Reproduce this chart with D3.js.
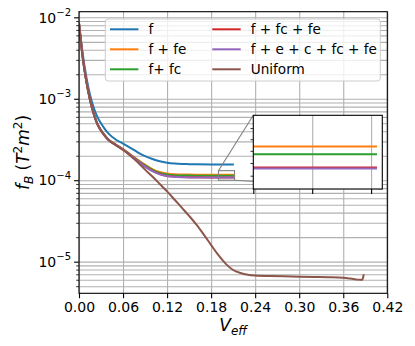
<!DOCTYPE html>
<html>
<head>
<meta charset="utf-8">
<script src="https://cdn.jsdelivr.net/npm/d3@7"></script>
<style>
  html, body { margin: 0; padding: 0; background: #fff; }
  svg { display: block; font-family: "DejaVu Sans", sans-serif; }
</style>
</head>
<body>
<svg id="chart" width="415" height="346"></svg>
<script>
// ---------- data ----------
const vEff = [0, 0.005, 0.01, 0.015, 0.02, 0.025, 0.03, 0.035, 0.04, 0.05, 0.06, 0.07, 0.08, 0.09, 0.10, 0.11, 0.12, 0.13, 0.14, 0.15, 0.16, 0.18, 0.20, 0.211];
const fOnly   = [8.6e-3, 3.6e-3, 1.85e-3, 1.12e-3, 7.8e-4, 6.0e-4, 5.0e-4, 4.27e-4, 3.76e-4, 3.16e-4, 2.82e-4, 2.5e-4, 2.2e-4, 1.98e-4, 1.82e-4, 1.71e-4, 1.64e-4, 1.6e-4, 1.58e-4, 1.575e-4, 1.57e-4, 1.565e-4, 1.56e-4, 1.56e-4];
const fFe     = [8.4e-3, 3.3e-3, 1.65e-3, 9.8e-4, 6.6e-4, 4.95e-4, 4.1e-4, 3.57e-4, 3.17e-4, 2.74e-4, 2.41e-4, 2.07e-4, 1.78e-4, 1.55e-4, 1.37e-4, 1.26e-4, 1.21e-4, 1.185e-4, 1.177e-4, 1.173e-4, 1.171e-4, 1.169e-4, 1.169e-4, 1.169e-4];
const fFc     = [8.4e-3, 3.3e-3, 1.65e-3, 9.8e-4, 6.6e-4, 4.95e-4, 4.1e-4, 3.56e-4, 3.16e-4, 2.73e-4, 2.4e-4, 2.05e-4, 1.76e-4, 1.52e-4, 1.34e-4, 1.23e-4, 1.18e-4, 1.155e-4, 1.145e-4, 1.14e-4, 1.138e-4, 1.136e-4, 1.136e-4, 1.136e-4];
const fFcFe   = [8.4e-3, 3.3e-3, 1.65e-3, 9.8e-4, 6.6e-4, 4.9e-4, 4.08e-4, 3.55e-4, 3.15e-4, 2.72e-4, 2.38e-4, 2.03e-4, 1.73e-4, 1.48e-4, 1.3e-4, 1.19e-4, 1.13e-4, 1.105e-4, 1.092e-4, 1.087e-4, 1.084e-4, 1.082e-4, 1.082e-4, 1.082e-4];
const fAll    = [8.4e-3, 3.3e-3, 1.65e-3, 9.8e-4, 6.6e-4, 4.9e-4, 4.07e-4, 3.54e-4, 3.14e-4, 2.71e-4, 2.37e-4, 2.02e-4, 1.72e-4, 1.47e-4, 1.29e-4, 1.18e-4, 1.125e-4, 1.1e-4, 1.088e-4, 1.083e-4, 1.08e-4, 1.078e-4, 1.078e-4, 1.078e-4];

const vEffUniform = [0, 0.005, 0.01, 0.015, 0.02, 0.025, 0.03, 0.035, 0.04, 0.05, 0.06, 0.07, 0.08, 0.09, 0.10, 0.11, 0.12, 0.13, 0.14, 0.15, 0.16, 0.17, 0.18, 0.19, 0.20, 0.21, 0.22, 0.23, 0.24, 0.26, 0.28, 0.30, 0.32, 0.34, 0.36, 0.37, 0.38, 0.386, 0.387, 0.388];
const uniform     = [8.4e-3, 3.2e-3, 1.62e-3, 9.6e-4, 6.5e-4, 4.85e-4, 4.05e-4, 3.5e-4, 3.12e-4, 2.7e-4, 2.35e-4, 2.0e-4, 1.66e-4, 1.35e-4, 1.11e-4, 9.0e-5, 7.3e-5, 5.8e-5, 4.6e-5, 3.65e-5, 2.85e-5, 2.15e-5, 1.6e-5, 1.2e-5, 9.4e-6, 7.9e-6, 7.25e-6, 6.9e-6, 6.75e-6, 6.65e-6, 6.6e-6, 6.55e-6, 6.5e-6, 6.45e-6, 6.35e-6, 6.2e-6, 6.02e-6, 5.98e-6, 6.4e-6, 7.0e-6];

const seriesNames  = ["f", "f + fe", "f+ fc", "f + fc + fe", "f + e + c + fc + fe", "Uniform"];
const seriesColors = ["#1f77b4", "#ff7f0e", "#2ca02c", "#d62728", "#9467bd", "#8c564b"];

const xTicks = [0, 0.06, 0.12, 0.18, 0.24, 0.30, 0.36, 0.42];
const yMajorTicks = [1e-5, 1e-4, 1e-3, 1e-2];
const yTickExponents = ["−5", "−4", "−3", "−2"];
const insetXTicks = [0.19, 0.20, 0.21];
const insetYTicks = [1.05e-4, 1.1e-4, 1.15e-4, 1.2e-4, 1.25e-4];

// ---------- layout ----------
const svg = d3.select("#chart");
const L = 79, R = 387.3, T = 11.7, B = 293.3;
const x = d3.scaleLinear().domain([0, 0.42]).range([L, R]);
const y = d3.scaleLog().domain([4.09e-6, 0.01172]).range([B, T]);

const series = [
  { xs: vEff, ys: fOnly },
  { xs: vEff, ys: fFe },
  { xs: vEff, ys: fFc },
  { xs: vEff, ys: fFcFe },
  { xs: vEff, ys: fAll },
  { xs: vEffUniform, ys: uniform }
].map((s, i) => ({ name: seriesNames[i], color: seriesColors[i], pts: s.xs.map((v, j) => [v, s.ys[j]]) }));

// minor y ticks
const yMinor = [];
for (let e = -6; e <= -2; e++) for (let m = 2; m <= 9; m++) {
  const v = m * Math.pow(10, e);
  if (v >= y.domain()[0] && v <= y.domain()[1]) yMinor.push(v);
}

const defs = svg.append("defs");
defs.append("clipPath").attr("id", "clipMain").append("rect").attr("x", L).attr("y", T).attr("width", R - L).attr("height", B - T);

// grid
const grid = svg.append("g");
grid.append("g").attr("transform", `translate(0,${B})`)
  .call(d3.axisBottom(x).tickValues(xTicks).tickSize(-(B - T)).tickFormat(""))
  .call(g => { g.select(".domain").remove(); g.selectAll("line").attr("stroke", "#b0b0b0").attr("stroke-width", 1.1); });
grid.append("g").attr("transform", `translate(${L},0)`)
  .call(d3.axisLeft(y).tickValues(yMajorTicks.concat(yMinor)).tickSize(-(R - L)).tickFormat(""))
  .call(g => { g.select(".domain").remove(); g.selectAll("line").attr("stroke", "#b0b0b0").attr("stroke-width", 1.1); });

// lines
const line = d3.line().x(d => x(d[0])).y(d => y(d[1])).curve(d3.curveMonotoneX);
const gl = svg.append("g").attr("clip-path", "url(#clipMain)");
series.forEach(s => {
  gl.append("path").attr("d", line(s.pts)).attr("fill", "none").attr("stroke", s.color).attr("stroke-width", 2);
});

// inset scales
const IL = 253.3, IR = 382.3, IT = 115.3, IB = 189;
const xi = d3.scaleLinear().domain([0.19, 0.2119]).range([IL, IR]);
const yi = d3.scaleLog().domain([1.0e-4, 1.31e-4]).range([IB, IT]);

// mark inset rectangle and connectors
const mk = svg.append("g").attr("stroke", "#808080").attr("stroke-width", 1.1).attr("fill", "none");
const rx0 = x(xi.domain()[0]), rx1 = x(xi.domain()[1]);
const ry0 = y(yi.domain()[1]), ry1 = y(yi.domain()[0]);
mk.append("rect").attr("x", rx0).attr("y", ry0).attr("width", rx1 - rx0).attr("height", ry1 - ry0);
mk.append("line").attr("x1", rx0).attr("y1", ry0).attr("x2", IL).attr("y2", IT);
mk.append("line").attr("x1", rx1).attr("y1", ry1).attr("x2", IR).attr("y2", IB);

// main axes
const ax = svg.append("g").attr("transform", `translate(0,${B})`)
  .call(d3.axisBottom(x).tickValues(xTicks).tickSize(4.9).tickPadding(3.5).tickFormat(d3.format(".2f")));
ax.select(".domain").remove();
ax.selectAll("line").attr("stroke", "#000").attr("stroke-width", 1.1);
ax.selectAll("text").attr("font-size", 14).attr("fill", "#000").attr("font-family", "DejaVu Sans");

const ayMin = svg.append("g").attr("transform", `translate(${L},0)`)
  .call(d3.axisLeft(y).tickValues(yMinor).tickSize(2.8).tickFormat(""));
ayMin.select(".domain").remove();
ayMin.selectAll("line").attr("stroke", "#000").attr("stroke-width", 0.8);

const ay = svg.append("g").attr("transform", `translate(${L},0)`)
  .call(d3.axisLeft(y).tickValues(yMajorTicks).tickSize(4.9).tickFormat(""));
ay.select(".domain").remove();
ay.selectAll("line").attr("stroke", "#000").attr("stroke-width", 1.1);
yMajorTicks.forEach((v, i) => {
  const t = svg.append("text").attr("x", 71).attr("y", y(v) + 5.2).attr("text-anchor", "end")
    .attr("font-size", 14).attr("fill", "#000");
  t.append("tspan").text("10");
  t.append("tspan").attr("font-size", 10).attr("dy", -6.5).text(yTickExponents[i]);
});

// frame
svg.append("rect").attr("x", L).attr("y", T).attr("width", R - L).attr("height", B - T)
  .attr("fill", "none").attr("stroke", "#000").attr("stroke-width", 1.1);

// axis labels
const xl = svg.append("text").attr("x", (L + R) / 2).attr("y", 331).attr("text-anchor", "middle").attr("font-size", 17);
xl.append("tspan").attr("font-style", "italic").text("V");
xl.append("tspan").attr("font-style", "italic").attr("font-size", 12).attr("dy", 4).text("eff");

const yl = svg.append("text").attr("transform", `translate(29,${(T + B) / 2}) rotate(-90)`)
  .attr("text-anchor", "middle").attr("font-size", 17);
yl.append("tspan").attr("font-style", "italic").text("f");
yl.append("tspan").attr("font-style", "italic").attr("font-size", 12).attr("dy", 4).text("B");
yl.append("tspan").attr("dy", -4).text(" (");
yl.append("tspan").attr("font-style", "italic").text("T");
yl.append("tspan").attr("font-size", 12).attr("dy", -7).text("2");
yl.append("tspan").attr("font-style", "italic").attr("dy", 7).text("m");
yl.append("tspan").attr("font-size", 12).attr("dy", -7).text("2");
yl.append("tspan").attr("dy", 7).text(")");

// legend
const lg = svg.append("g");
lg.append("rect").attr("x", 105.3).attr("y", 19).attr("width", 275).attr("height", 62).attr("rx", 3)
  .attr("fill", "#fff").attr("fill-opacity", 0.8).attr("stroke", "#cccccc").attr("stroke-width", 1);
series.forEach((s, i) => {
  const col = Math.floor(i / 3), row = i % 3;
  const lx = col === 0 ? 110 : 212.3;
  const cy = 29.3 + row * 20;
  lg.append("line").attr("x1", lx).attr("x2", lx + 28.4).attr("y1", cy).attr("y2", cy)
    .attr("stroke", s.color).attr("stroke-width", 2);
  lg.append("text").attr("x", lx + 38.4).attr("y", cy + 5).attr("font-size", 13.6).attr("fill", "#000").text(s.name);
});

// inset
const ins = svg.append("g");
defs.append("clipPath").attr("id", "clipInset").append("rect").attr("x", IL).attr("y", IT).attr("width", IR - IL).attr("height", IB - IT);
ins.append("rect").attr("x", IL).attr("y", IT).attr("width", IR - IL).attr("height", IB - IT).attr("fill", "#fff");
ins.append("g").attr("transform", `translate(0,${IB})`)
  .call(d3.axisBottom(xi).tickValues(insetXTicks.slice(1)).tickSize(-(IB - IT)).tickFormat(""))
  .call(g => { g.select(".domain").remove(); g.selectAll("line").attr("stroke", "#b0b0b0").attr("stroke-width", 1.1); });
const il = ins.append("g").attr("clip-path", "url(#clipInset)");
series.forEach(s => {
  il.append("path").attr("d", d3.line().x(d => xi(d[0])).y(d => yi(d[1]))(s.pts))
    .attr("fill", "none").attr("stroke", s.color).attr("stroke-width", 2);
});
const iax = ins.append("g").attr("transform", `translate(0,${IB})`)
  .call(d3.axisBottom(xi).tickValues(insetXTicks).tickSize(4.9).tickFormat(""));
iax.select(".domain").remove();
iax.selectAll("line").attr("stroke", "#000").attr("stroke-width", 1.1);
const iay = ins.append("g").attr("transform", `translate(${IL},0)`)
  .call(d3.axisLeft(yi).tickValues(insetYTicks).tickSize(2.8).tickFormat(""));
iay.select(".domain").remove();
iay.selectAll("line").attr("stroke", "#000").attr("stroke-width", 0.8);
ins.append("rect").attr("x", IL).attr("y", IT).attr("width", IR - IL).attr("height", IB - IT)
  .attr("fill", "none").attr("stroke", "#000").attr("stroke-width", 1.1);
</script>
</body>
</html>
